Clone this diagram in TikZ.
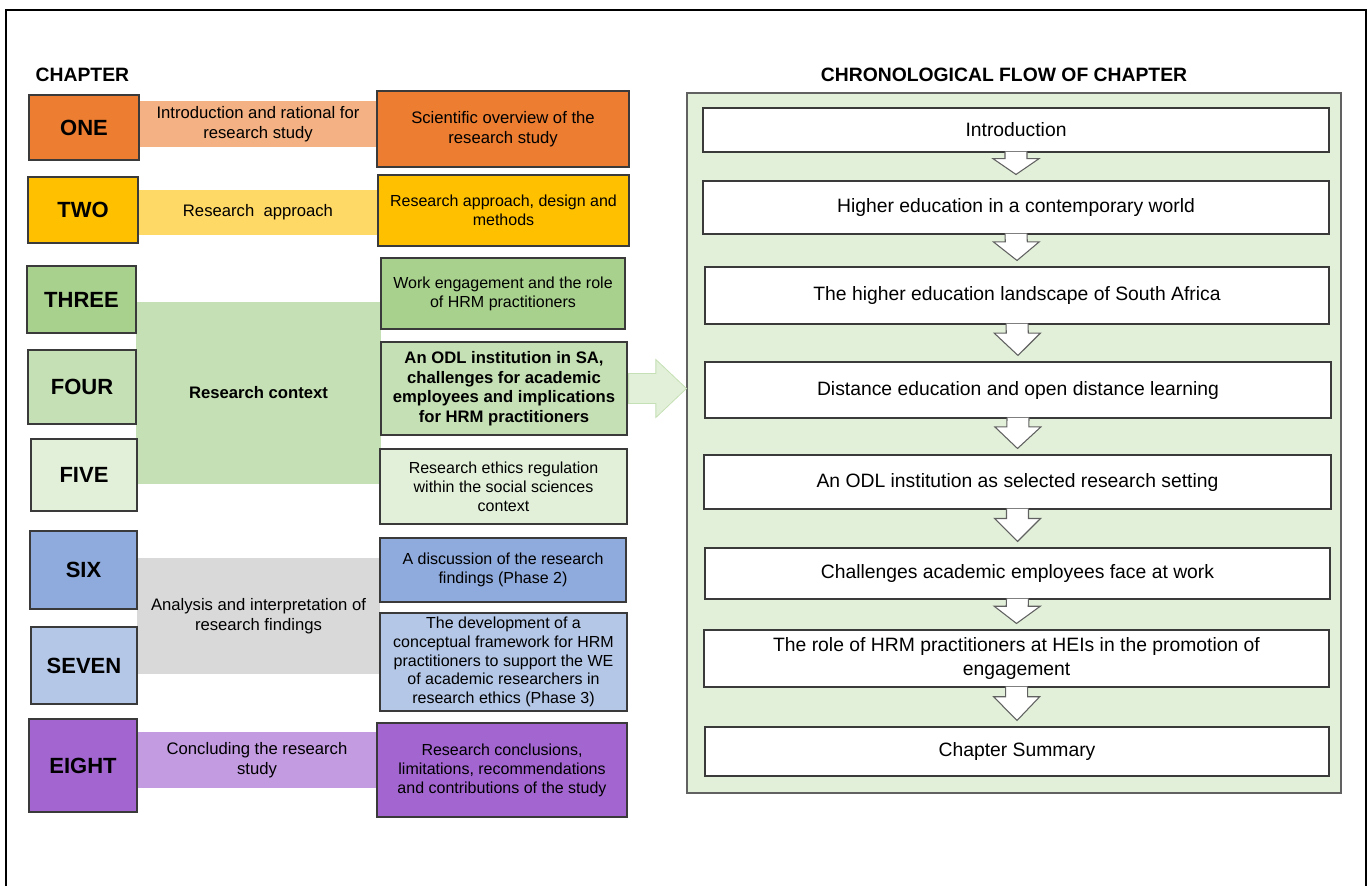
\documentclass[tikz,border=0pt]{standalone}
\usepackage{fontspec}
\setmainfont{Liberation Sans}
\usetikzlibrary{calc,positioning}

\definecolor{orangeD}{HTML}{ED7D31}
\definecolor{orangeL}{HTML}{F4B183}
\definecolor{goldD}{HTML}{FFC000}
\definecolor{goldL}{HTML}{FFD966}
\definecolor{greenA}{HTML}{A9D18E}
\definecolor{greenB}{HTML}{C5E0B4}
\definecolor{greenC}{HTML}{E2F0D9}
\definecolor{blueA}{HTML}{8FAADC}
\definecolor{blueB}{HTML}{B4C7E7}
\definecolor{greyL}{HTML}{D9D9D9}
\definecolor{purpleD}{HTML}{A366D1}
\definecolor{purpleL}{HTML}{C39BE1}
\definecolor{edge}{HTML}{3A3A3A}

\begin{document}
\begin{tikzpicture}[x=0.75pt,y=-0.75pt,
  cell/.style n args={4}{at={({(#1+#3)/2},{(#2+#4)/2})}, minimum width={(#3-#1)*0.75pt}, minimum height={(#4-#2)*0.75pt}},
  chap/.style={draw=edge, line width=0.9pt, inner sep=0pt, font=\fontsize{16.5}{19}\selectfont\bfseries},
  band/.style={inner sep=0pt, align=center, font=\fontsize{12.5}{15}\selectfont},
  topic/.style={draw=edge, line width=0.9pt, inner sep=0pt, align=center, font=\fontsize{12}{14.2}\selectfont},
  panel/.style={draw=edge!80, line width=0.8pt, fill=greenC, inner sep=0pt},
  flow/.style={draw=edge, line width=0.8pt, fill=white, inner sep=0pt, align=center, font=\fontsize{14.5}{18}\selectfont},
  flowarrow/.style={draw=edge!80, line width=0.8pt, fill=white},
  bigarrow/.style={draw=greenB, line width=0.6pt, fill=greenC},
  head/.style={font=\fontsize{14.5}{17}\selectfont\bfseries}]
\useasboundingbox (0,0) rectangle (1369,886);
\draw[line width=1.5pt] (6,886) -- (6,10) -- (1366,10) -- (1366,886);

% headings
\node[head, anchor=west] (chaptitle) at (31,75) {CHAPTER};
\node[head] (flowtitle) at (1004,75) {CHRONOLOGICAL FLOW OF CHAPTER};

% bands behind the chapter boxes
\node[band, fill=orangeL, cell={139}{101}{377}{147}] (b1) {Introduction and rational for\\research study};
\node[band, fill=goldL, cell={138}{190}{378}{235}] (b2) {Research\ \ approach};
\node[band, fill=greenB, cell={136}{302}{381}{484}, font=\fontsize{12.5}{15}\selectfont\bfseries] (b3) {Research context};
\node[band, fill=greyL, cell={137}{558}{380}{674}] (b6) {Analysis and interpretation of\\research findings};
\node[band, fill=purpleL, cell={137}{732}{377}{788}] (b8) {Concluding the research\\study};

% chapter boxes
\node[chap, fill=orangeD, cell={29}{95}{139}{160}] (one) {ONE};
\node[chap, fill=goldD, cell={28}{177}{138}{243}] (two) {TWO};
\node[chap, fill=greenA, cell={27}{266}{136}{333}] (three) {THREE};
\node[chap, fill=greenB, cell={28}{350}{136}{424}] (four) {FOUR};
\node[chap, fill=greenC, cell={31}{439}{137}{511}] (five) {FIVE};
\node[chap, fill=blueA, cell={30}{531}{137}{609}] (six) {SIX};
\node[chap, fill=blueB, cell={31}{627}{137}{704}] (seven) {SEVEN};
\node[chap, fill=purpleD, cell={29}{719}{137}{812}] (eight) {EIGHT};

% chapter topics
\node[topic, fill=orangeD, cell={377}{91}{629}{167}, font=\fontsize{12.5}{15}\selectfont] (t1) {Scientific overview of the\\research study};
\node[topic, fill=goldD, cell={378}{175}{629}{246}] (t2) {Research approach, design and\\methods};
\node[topic, fill=greenA, cell={381}{258}{625}{329}] (t3) {Work engagement and the role\\of HRM practitioners};
\node[topic, fill=greenB, cell={381}{342}{627}{435}, font=\fontsize{12.5}{14.6}\selectfont\bfseries] (t4) {An ODL institution in SA,\\challenges for academic\\employees and implications\\for HRM practitioners};
\node[topic, fill=greenC, cell={380}{449}{627}{524}] (t5) {Research ethics regulation\\within the social sciences\\context};
\node[topic, fill=blueA, cell={380}{538}{626}{602}] (t6) {A discussion of the research\\findings (Phase 2)};
\node[topic, fill=blueB, cell={380}{613}{627}{711}, font=\fontsize{12}{14}\selectfont] (t7) {The development of a\\conceptual framework for HRM\\practitioners to support the WE\\of academic researchers in\\research ethics (Phase 3)};
\node[topic, fill=purpleD, cell={377}{723}{627}{817}] (t8) {Research conclusions,\\limitations, recommendations\\and contributions of the study};

% chronological flow
\node[panel, cell={687}{93}{1341}{793}] (panel) {};
\node[flow, cell={703}{108}{1329}{152}] (f1) {Introduction};
\node[flow, cell={703}{181}{1329}{234}] (f2) {Higher education in a contemporary world};
\node[flow, cell={705}{267}{1329}{324}] (f3) {The higher education landscape of South Africa};
\node[flow, cell={705}{362}{1331}{418}] (f4) {Distance education and open distance learning};
\node[flow, cell={704}{455}{1331}{509}] (f5) {An ODL institution as selected research setting};
\node[flow, cell={705}{548}{1330}{599}] (f6) {Challenges academic employees face at work};
\node[flow, cell={704}{630}{1329}{687}] (f7) {The role of HRM practitioners at HEIs in the promotion of\\engagement};
\node[flow, cell={705}{727}{1329}{776}] (f8) {Chapter Summary};

\foreach \a/\b in {f1/f2,f2/f3,f3/f4,f4/f5,f5/f6,f6/f7,f7/f8}{
  \coordinate (tip) at ($(\b.north)+(0,-6)$);
  \coordinate (base) at ($(\a.south)!0.28!(tip)$);
  \filldraw[flowarrow] ($(\a.south)+(-11,-1)$) -- ($(base)+(-11,0)$) -- ($(base)+(-23,0)$)
    -- (tip) -- ($(base)+(23,0)$) -- ($(base)+(11,0)$) -- ($(\a.south)+(11,-1)$);
}

% arrow from the research context to the flow
\coordinate (gs) at (t4.east);
\coordinate (gt) at (t4.east -| panel.west);
\filldraw[bigarrow] ($(gs)+(1,-15)$) -- ($(gs)!0.48!(gt)+(0,-15)$) -- ($(gs)!0.48!(gt)+(0,-29)$)
  -- (gt) -- ($(gs)!0.48!(gt)+(0,29)$) -- ($(gs)!0.48!(gt)+(0,15)$) -- ($(gs)+(1,15)$) -- cycle;
\end{tikzpicture}
\end{document}
